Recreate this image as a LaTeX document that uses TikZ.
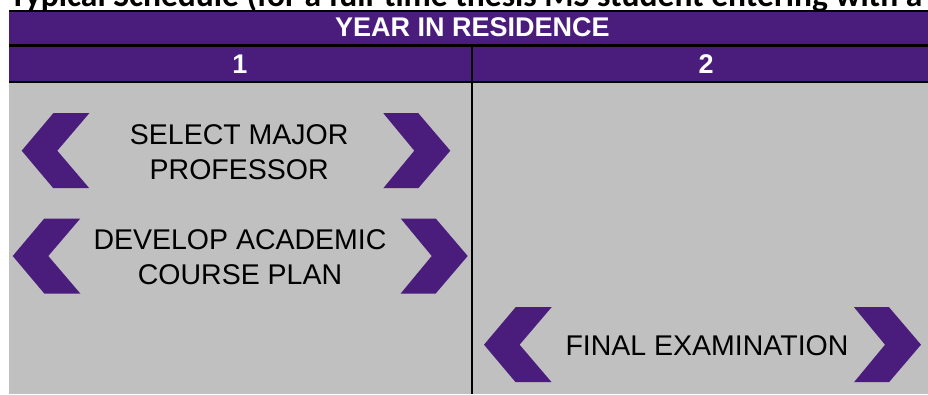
\documentclass[tikz,border=0pt]{standalone}
\usepackage{fontspec}
\setmainfont{Liberation Sans}
\newfontfamily\titlefont{Carlito}
\definecolor{kpurple}{RGB}{74,29,124}
\definecolor{cellgray}{RGB}{192,192,192}
\tikzset{
  chevfill/.style={fill=kpurple},
  hdrtext/.style={text=white,font=\fontsize{27}{32}\selectfont\bfseries,inner sep=0pt,anchor=base},
  celltext/.style={text=black,font=\fontsize{28.5}{34.3}\selectfont,inner sep=0pt,align=center},
  titletext/.style={text=black,font=\titlefont\bfseries\fontsize{33.5}{40}\selectfont,inner sep=0pt,anchor=base west},
  gridrule/.style={draw=black},
  chevleft/.pic={\fill[chevfill] (0,0) -- (31.6,-37.5) -- (67.6,-37.5) -- (35.6,0) -- (67.6,37.5) -- (31.6,37.5) -- cycle;},
  chevright/.pic={\fill[chevfill] (0,-37.5) -- (35,-37.5) -- (67,0) -- (35,37.5) -- (0,37.5) -- (31,0) -- cycle;}
}
\begin{document}
\begin{tikzpicture}[x=1pt,y=-1pt]
\useasboundingbox (0,0) rectangle (928,394);
\clip (0,0) rectangle (928,394);
\fill[white] (0,0) rectangle (928,394);
% title (cut off by the page top, as in the reference)
\node[titletext] (title) at (9.3,6.5) {Typical Schedule (for a full-time thesis MS student entering with a B};
% table background
\fill[kpurple] (9,12) rectangle (940,82);
\fill[cellgray] (9,82) rectangle (940,394);
\draw[gridrule,line width=2pt] (9,11) -- (940,11);
\draw[gridrule,line width=3pt] (9,45.5) -- (940,45.5);
\draw[gridrule,line width=2.3pt] (9,82.2) -- (940,82.2);
\draw[gridrule,line width=2.7pt] (472,47) -- (472,394);
% headers
\node[hdrtext] (yir) at (472.5,36.7) {YEAR IN RESIDENCE};
\node[hdrtext] (yr1) at (240,73.7) {1};
\node[hdrtext] (yr2) at (706,73.7) {2};
% chevrons
\pic (cl1) at (21.7,150.7) {chevleft};
\pic (cr1) at (383.3,150.7) {chevright};
\pic (cl2) at (12.7,256) {chevleft};
\pic (cr2) at (400.7,256) {chevright};
\pic (cl3) at (484,344.7) {chevleft};
\pic (cr3) at (854,344.7) {chevright};
% cell texts
\node[celltext] (selmaj) at (239.2,152.2) {SELECT MAJOR\\PROFESSOR};
\node[celltext] (devplan) at (240,257.2) {DEVELOP ACADEMIC\\COURSE PLAN};
\node[celltext,anchor=base] (finex) at (707,355.7) {FINAL EXAMINATION};
\end{tikzpicture}
\end{document}
